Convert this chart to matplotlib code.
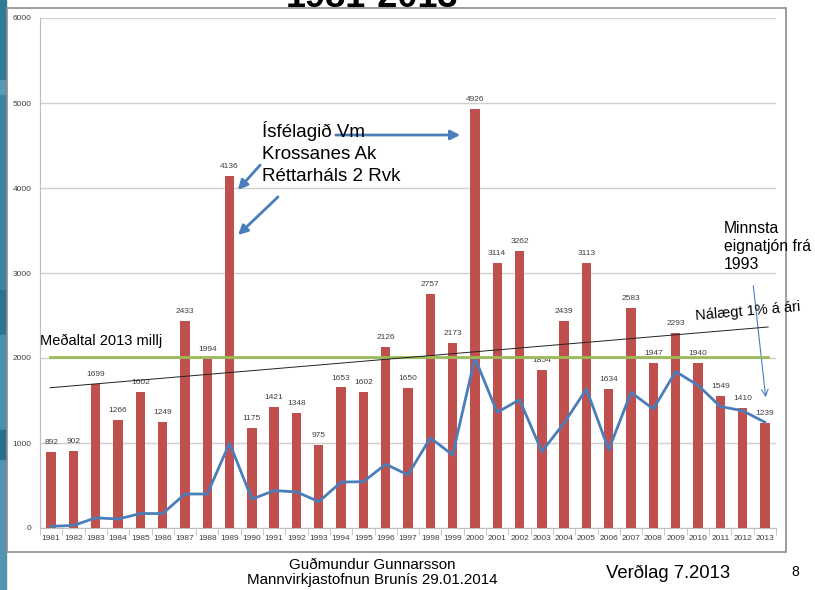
import numpy as np
import matplotlib.pyplot as plt
from matplotlib.patches import Rectangle

plt.rcParams['font.family'] = ['Liberation Sans', 'DejaVu Sans']

years = [str(y) for y in range(1981, 2014)]
tjon = [892, 902, 1699, 1266, 1602, 1249, 2433, 1994, 4136, 1175, 1421, 1348, 975, 1653, 1602,
        2126, 1650, 2757, 2173, 4926, 3114, 3262, 1854, 2439, 3113, 1634, 2583, 1947, 2293, 1940,
        1549, 1410, 1239]
line_vals = [20, 30, 120, 105, 170, 170, 400, 400, 1000, 340, 440, 425, 310, 540, 545,
             750, 625, 1060, 860, 2000, 1360, 1510, 900, 1235, 1635, 920, 1595, 1400, 1840, 1680,
             1430, 1380, 1245]
medaltal = 2010
trend_start, trend_end = 1650, 2365

W, H = 815, 590
fig = plt.figure(figsize=(W/100, H/100), dpi=100)

def fx(px):
    return px / W

def fy(py):
    return 1 - py / H

# left decorative strip
strip = [(0, 80, '#2f7a95'), (80, 95, '#5a9ab5'), (95, 290, '#3d86a3'), (290, 335, '#2c7590'),
         (335, 430, '#4b8fae'), (430, 460, '#2a6d88'), (460, 590, '#5493b0')]
for y0, y1, c in strip:
    fig.patches.append(Rectangle((0, fy(y1)), fx(6), (y1 - y0) / H, transform=fig.transFigure,
                                 color=c, zorder=-2))

# chart frame
fig.patches.append(Rectangle((fx(7), fy(552)), fx(786 - 7), (552 - 8) / H, transform=fig.transFigure,
                             facecolor='white', edgecolor='#8c8c8c', lw=1.2, zorder=-2))

ax = fig.add_axes([fx(40), fy(528), fx(776 - 40), (528 - 18) / H])
ax.set_facecolor('none')
x = np.arange(len(years))

ax.bar(x, tjon, width=0.42, color='#c0504d', zorder=3)
for xi, v in zip(x, tjon):
    ax.text(xi, v + 70, str(v), ha='center', va='bottom', fontsize=6, color='#404040')
ax.plot(x, line_vals, color='#4a7ebb', lw=2, zorder=4)
ax.plot([-0.05, 32.15], [medaltal, medaltal], color='#9bbb59', lw=2, zorder=4)
ax.plot([-0.05, 32.15], [trend_start, trend_end], color='#222222', lw=0.7, zorder=4)

ax.set_xlim(-0.5, 32.5)
ax.set_ylim(0, 6000)
ax.set_yticks(range(0, 6001, 1000))
ax.yaxis.grid(True, color='#d0d0d0', lw=1, zorder=0)
ax.set_axisbelow(True)
ax.set_xticks(x)
ax.set_xticklabels(years, fontsize=6, color='#404040')
ax.set_xticks(np.arange(-0.5, 33, 1), minor=True)
ax.tick_params(axis='x', which='major', length=0, pad=5)
ax.tick_params(axis='x', which='minor', length=5, color='#bfbfbf')
ax.tick_params(axis='y', length=0, labelsize=6, labelcolor='#404040', pad=6)
for s in ['top', 'right']:
    ax.spines[s].set_visible(False)
ax.spines['left'].set_color('#bfbfbf')
ax.spines['bottom'].set_color('#bfbfbf')

# title (cut off at top)
fig.text(fx(372), fy(7), '1981-2013', ha='center', va='baseline', fontsize=26, fontweight='bold')

# annotations
fig.text(fx(262), fy(153), 'Ísfélagið Vm\nKrossanes Ak\nRéttarháls 2 Rvk', ha='left', va='center',
         fontsize=13.5, linespacing=1.4)
arrow = dict(arrowstyle='-|>', color='#4a7ebb', lw=2, mutation_scale=14)
ax.annotate('', xy=(fx(463), fy(135)), xytext=(fx(333), fy(135)), xycoords='figure fraction',
            textcoords='figure fraction', arrowprops=arrow)
ax.annotate('', xy=(fx(236), fy(192)), xytext=(fx(262), fy(163)), xycoords='figure fraction',
            textcoords='figure fraction', arrowprops=arrow)
ax.annotate('', xy=(fx(236), fy(237)), xytext=(fx(280), fy(195)), xycoords='figure fraction',
            textcoords='figure fraction', arrowprops=arrow)

fig.text(fx(40), fy(341), 'Meðaltal 2013 millj', ha='left', va='center', fontsize=10.5)
fig.text(fx(724), fy(247), 'Minnsta\neignatjón frá\n1993', ha='left', va='center', fontsize=11.3,
         linespacing=1.25)
fig.text(fx(695), fy(311), 'Nálægt 1% á ári', ha='left', va='center', fontsize=10.5, rotation=5)
ax.annotate('', xy=(fx(766), fy(400)), xytext=(fx(753), fy(283)), xycoords='figure fraction',
            textcoords='figure fraction',
            arrowprops=dict(arrowstyle='->', color='#4a7ebb', lw=0.8, mutation_scale=12))

# footer
fig.text(fx(372), fy(565), 'Guðmundur Gunnarsson', ha='center', va='center', fontsize=10.9)
fig.text(fx(372), fy(580), 'Mannvirkjastofnun Brunís 29.01.2014', ha='center', va='center', fontsize=10.9)
fig.text(fx(668), fy(573), 'Verðlag 7.2013', ha='center', va='center', fontsize=13.3)
fig.text(fx(795), fy(572), '8', ha='center', va='center', fontsize=10)

fig.savefig('out.png', dpi=100)
